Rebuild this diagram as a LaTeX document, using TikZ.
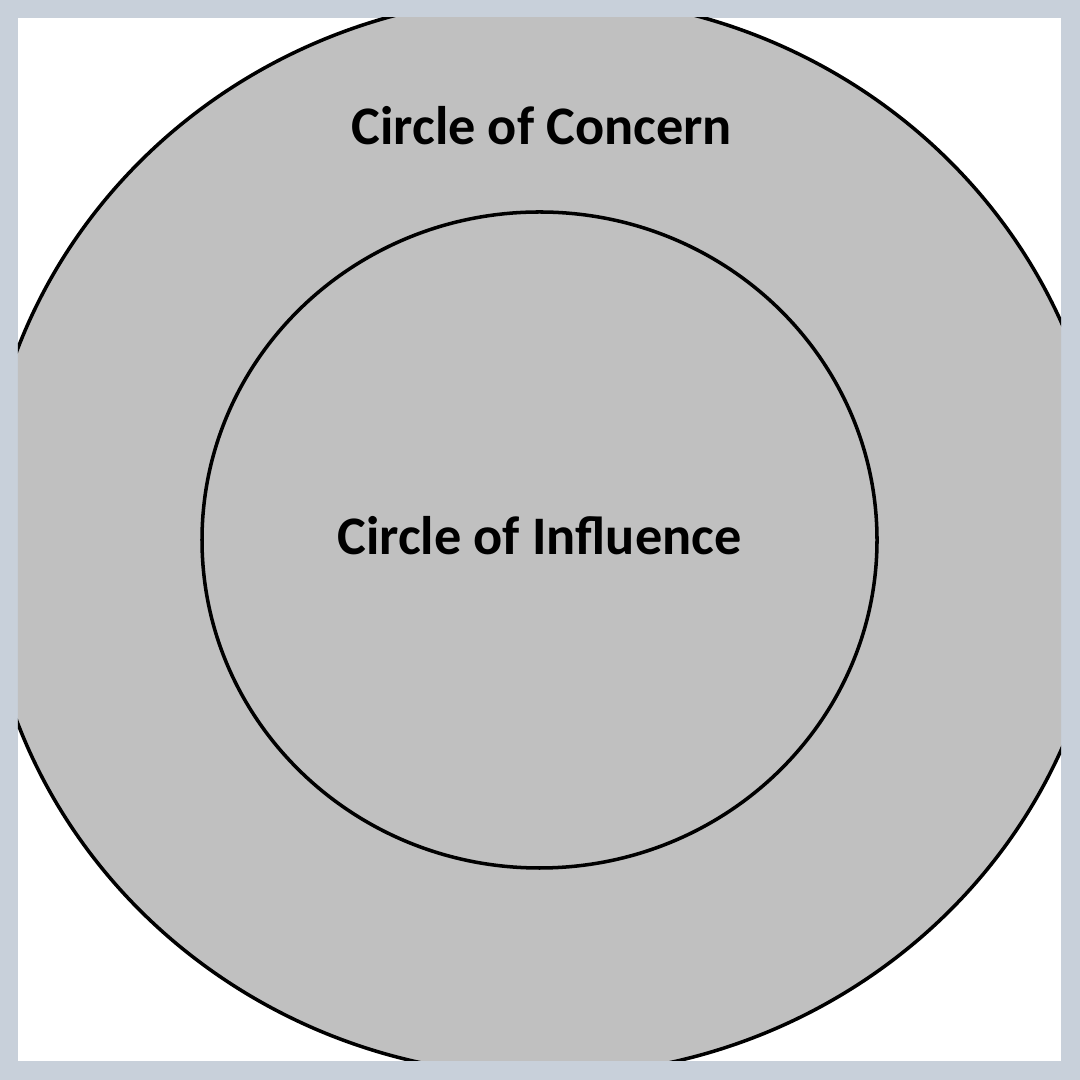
\documentclass[tikz,border=0pt]{standalone}
\usepackage{fontspec}
\setmainfont{Carlito}
\definecolor{framec}{HTML}{C8D0DA}
\definecolor{fillg}{HTML}{C0C0C0}
\tikzset{
  ring/.style={draw=black, line width=1pt, fill=fillg},
  lbl/.style={font=\fontsize{15.45pt}{18pt}\selectfont\bfseries, text=black, anchor=base, inner sep=0pt}
}
\begin{document}
\begin{tikzpicture}
\useasboundingbox (0,0) rectangle (10.8,10.8);
\fill[framec] (0,0) rectangle (10.8,10.8);
\fill[white] (0.18,0.19) rectangle (10.61,10.62);
\begin{scope}
  \clip (0.18,0.19) rectangle (10.61,10.62);
  \draw[ring] (5.45,5.44) ellipse [x radius=5.62, y radius=5.40];
\end{scope}
\draw[ring] (5.395,5.40) ellipse [x radius=3.375, y radius=3.28];
\node[lbl] (concern) at (5.42,9.35) {Circle of Concern};
\node[lbl] (influence) at (5.395,5.25) {Circle of Influence};
\end{tikzpicture}
\end{document}
